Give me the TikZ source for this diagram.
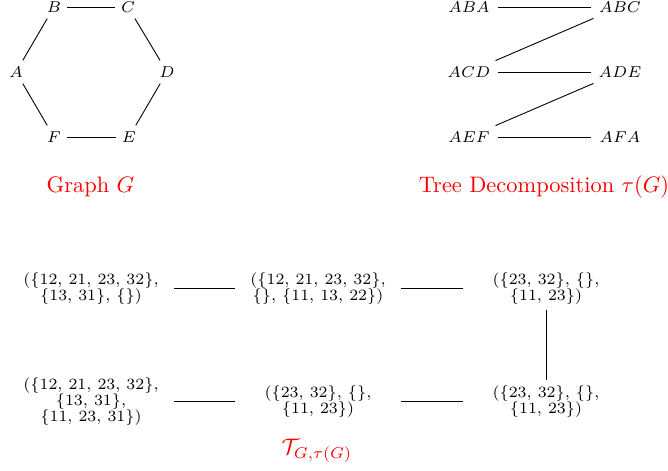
\documentclass[tikz,border=0pt]{standalone}
\begin{document}
\begin{tikzpicture}[x=0.4461pt,y=-0.4461pt,
  v/.style={font=\scriptsize, shape=circle, inner sep=0pt, minimum size=11.6pt},
  bag/.style={font=\scriptsize, shape=circle, inner sep=0pt, minimum size=25.4pt},
  s/.style={font={\fontsize{7}{7.2}\selectfont\lineskiplimit=-5pt}, align=center,
            inner sep=0pt, minimum width=74pt, minimum height=19.2pt},
  lab/.style={text=red}]
\useasboundingbox (0,0) rectangle (668,471);
% Graph G
\node[v] (A) at (16,72) {$A$};
\node[v] (B) at (54,7) {$B$};
\node[v] (C) at (128,7) {$C$};
\node[v] (D) at (167,72) {$D$};
\node[v] (E) at (129,137) {$E$};
\node[v] (F) at (54,137) {$F$};
\draw (B) -- (C);
\draw (C) -- (D);
\draw (D) -- (E);
\draw (E) -- (F);
\draw (F) -- (A);
\draw (A) -- (B);
\node[lab] (gl) at (90.5,187) {Graph $G$};
% Tree decomposition
\node[bag] (ABA) at (469,7) {$ABA$};
\node[bag] (ABC) at (620,7) {$ABC$};
\node[bag] (ACD) at (469,72) {$ACD$};
\node[bag] (ADE) at (620,72) {$ADE$};
\node[bag] (AEF) at (469,137) {$AEF$};
\node[bag] (AFA) at (620,137) {$AFA$};
\draw (ABA) -- (ABC);
\draw (ABC) -- (ACD);
\draw (ACD) -- (ADE);
\draw (ADE) -- (AEF);
\draw (AEF) -- (AFA);
\node[lab] (tl) at (544,187) {Tree Decomposition $\tau(G)$};
% T_{G,tau(G)}
\node[s] (n1) at (91,288.5) {(\{12, 21, 23, 32\},\\\{13, 31\}, \{\})};
\node[s] (n2) at (318,288.5) {(\{12, 21, 23, 32\},\\\{\}, \{11, 13, 22\})};
\node[s] (n3) at (546,288.5) {(\{23, 32\}, \{\},\\\{11, 23\})};
\node[s] (n4) at (91,401.5) {(\{12, 21, 23, 32\},\\\{13, 31\},\\\{11, 23, 31\})};
\node[s] (n5) at (318,401.5) {(\{23, 32\}, \{\},\\\{11, 23\})};
\node[s] (n6) at (546,401.5) {(\{23, 32\}, \{\},\\\{11, 23\})};
\draw (n1) -- (n2);
\draw (n2) -- (n3);
\draw (n3) -- (n6);
\draw (n6) -- (n5);
\draw (n5) -- (n4);
\node[lab] (bl) at (317,451) {$\mathcal{T}_{G,\tau(G)}$};
\end{tikzpicture}
\end{document}
